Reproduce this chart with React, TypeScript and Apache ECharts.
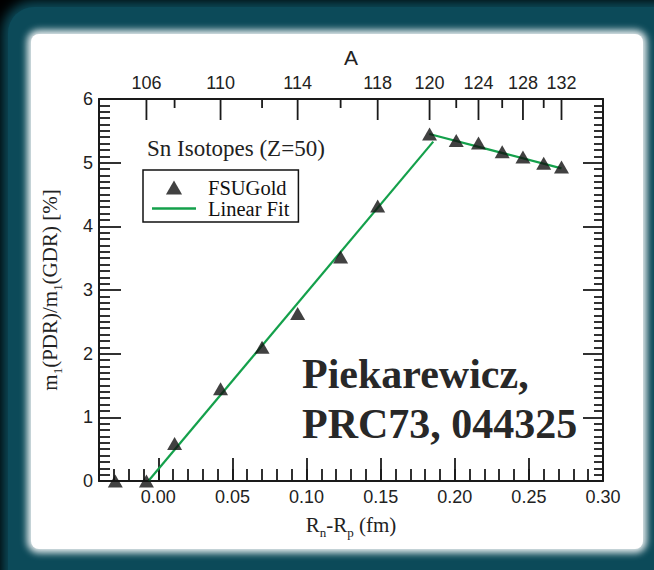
import React, { useEffect, useRef } from "react";
import * as echarts from "echarts";

// ---- data ----
const massNumbers = [104, 106, 108, 110, 112, 114, 116, 118, 120, 122, 124, 126, 128, 130, 132];
const rnMinusRp = [-0.029, -0.008, 0.011, 0.042, 0.070, 0.094, 0.123, 0.148, 0.183, 0.201, 0.216, 0.232, 0.246, 0.260, 0.272];
const pdrRatio = [0, 0, 0.59, 1.45, 2.10, 2.63, 3.52, 4.32, 5.45, 5.35, 5.31, 5.17, 5.09, 4.99, 4.93];
const topMajorA = [106, 110, 114, 118, 120, 124, 128, 132];
const topMinorA = [108, 112, 116, 122, 126, 130];
const fitLow = [[-0.0067, 0], [0.1855, 5.33]];
const fitHigh = [[0.1828, 5.45], [0.272, 4.91]];
const xMin = -0.04;
const xMax = 0.30;
const yMin = 0;
const yMax = 6;

const SERIF = "'Liberation Serif', 'Times New Roman', serif";
const SANS = "'Liberation Sans', Arial, sans-serif";
const INK = "#1a1a1a";
const GREEN = "#14a04b";

export default function App() {
  const ref = useRef<HTMLDivElement>(null);

  useEffect(() => {
    if (!ref.current) return;
    const chart = echarts.init(ref.current, undefined, { renderer: "svg" });

    const scatterData = massNumbers.map((_, i) => [rnMinusRp[i], pdrRatio[i]]);
    const topTicks = [
      ...topMajorA.map((a) => [rnMinusRp[massNumbers.indexOf(a)], a, 1]),
      ...topMinorA.map((a) => [rnMinusRp[massNumbers.indexOf(a)], a, 0]),
    ];

    const richName = {
      a: { fontFamily: SERIF, fontSize: 21, color: "#222", lineHeight: 28 },
      s: { fontFamily: SERIF, fontSize: 13, color: "#222", verticalAlign: "bottom" },
    };

    chart.setOption({
      animation: false,
      backgroundColor: "transparent",
      title: {
        text: "Sn Isotopes (Z=50)",
        left: 147,
        top: 137,
        padding: 0,
        textStyle: { fontFamily: SERIF, fontSize: 23, fontWeight: "normal", color: "#222" },
      },
      legend: {
        data: [
          { name: "FSUGold", icon: "path://M0,13 L7.5,0 L15,13 Z" },
          { name: "Linear Fit", icon: "path://M0,0 L44,0 L44,2.4 L0,2.4 Z" },
        ],
        orient: "vertical",
        left: 143,
        top: 170,
        padding: [7, 9, 3, 9],
        itemGap: 0,
        itemWidth: 44,
        itemHeight: 14,
        symbolKeepAspect: true,
        borderColor: "#111",
        borderWidth: 1.5,
        textStyle: { fontFamily: SERIF, fontSize: 20.5, color: "#111", lineHeight: 20.5, padding: [0, 0, 0, 7] },
      },
      grid: { left: 99, top: 99, width: 504, height: 382, containLabel: false },
      xAxis: [
        {
          type: "value",
          position: "bottom",
          min: xMin,
          max: xMax,
          splitNumber: 7,
          axisLine: { show: true, onZero: false, lineStyle: { color: INK, width: 2 } },
          axisTick: { show: true, inside: true, length: 23, lineStyle: { color: INK, width: 1.8 } },
          axisLabel: {
            showMinLabel: false,
            margin: 7,
            fontFamily: SANS,
            fontSize: 18,
            color: "#222",
            formatter: (v: number) => v.toFixed(2),
          },
          splitLine: { show: false },
          name: "{a|R}{s|n}{a|-R}{s|p}{a| (fm)}",
          nameLocation: "middle",
          nameGap: 30,
          nameTextStyle: { rich: richName },
        },
        {
          type: "value",
          position: "bottom",
          min: xMin,
          max: xMax,
          interval: 0.01,
          axisLine: { show: false },
          axisTick: { show: true, inside: true, length: 12, lineStyle: { color: INK, width: 1.8 } },
          axisLabel: { show: false },
          splitLine: { show: false },
        },
        {
          type: "value",
          position: "top",
          min: xMin,
          max: xMax,
          axisLine: { show: true, onZero: false, lineStyle: { color: INK, width: 2 } },
          axisTick: { show: false },
          axisLabel: { show: false },
          splitLine: { show: false },
          name: "A",
          nameLocation: "middle",
          nameGap: 31,
          nameTextStyle: { fontFamily: SANS, fontSize: 21, color: "#222" },
        },
      ],
      yAxis: [
        {
          type: "value",
          position: "left",
          min: yMin,
          max: yMax,
          interval: 1,
          axisLine: { show: true, onZero: false, lineStyle: { color: INK, width: 2 } },
          axisTick: { show: true, inside: true, length: 22, lineStyle: { color: INK, width: 1.8 } },
          minorTick: { show: true, splitNumber: 10, length: 11, lineStyle: { color: INK, width: 1.8 } },
          axisLabel: { margin: 6, fontFamily: SANS, fontSize: 18, color: "#222" },
          splitLine: { show: false },
          name: "{a|m}{s|1}{a|(PDR)/m}{s|1}{a|(GDR) [%]}",
          nameLocation: "middle",
          nameGap: 35,
          nameTextStyle: { rich: richName },
        },
        {
          type: "value",
          position: "right",
          min: yMin,
          max: yMax,
          interval: 1,
          axisLine: { show: true, onZero: false, lineStyle: { color: INK, width: 2 } },
          axisTick: { show: true, inside: true, length: 20, lineStyle: { color: INK, width: 1.8 } },
          minorTick: { show: true, splitNumber: 10, length: 9, lineStyle: { color: INK, width: 1.8 } },
          axisLabel: { show: false },
          splitLine: { show: false },
        },
      ],
      graphic: [
        {
          type: "text",
          x: 302,
          y: 399,
          style: {
            text: "Piekarewicz,\nPRC73, 044325",
            font: `bold 42px ${SERIF}`,
            lineHeight: 50,
            fill: "#282828",
            align: "left",
            verticalAlign: "middle",
          },
          z: 10,
        },
      ],
      series: [
        {
          name: "Linear Fit",
          type: "line",
          xAxisIndex: 0,
          yAxisIndex: 0,
          data: fitLow,
          symbol: "none",
          lineStyle: { color: GREEN, width: 2.2 },
          itemStyle: { color: GREEN },
          z: 2,
        },
        {
          name: "Linear Fit",
          type: "line",
          xAxisIndex: 0,
          yAxisIndex: 0,
          data: fitHigh,
          symbol: "none",
          lineStyle: { color: GREEN, width: 2.2 },
          itemStyle: { color: GREEN },
          z: 2,
        },
        {
          name: "FSUGold",
          type: "scatter",
          xAxisIndex: 0,
          yAxisIndex: 0,
          data: scatterData,
          symbol: "triangle",
          symbolSize: [15, 13],
          itemStyle: { color: "#111" },
          z: 3,
        },
        {
          name: "A ticks",
          type: "custom",
          xAxisIndex: 0,
          yAxisIndex: 0,
          clip: false,
          silent: true,
          data: topTicks,
          renderItem: (params: any, api: any) => {
            const x = api.value(0);
            const a = api.value(1);
            const major = api.value(2) === 1;
            const p = api.coord([x, yMax]);
            const len = major ? 21 : 9;
            const children: any[] = [
              {
                type: "line",
                shape: { x1: p[0], y1: p[1], x2: p[0], y2: p[1] + len },
                style: { stroke: INK, lineWidth: 1.8 },
              },
            ];
            if (major) {
              children.push({
                type: "text",
                x: p[0],
                y: p[1] - 7,
                style: {
                  text: String(a),
                  fill: "#222",
                  font: `18px ${SANS}`,
                  align: "center",
                  verticalAlign: "bottom",
                },
              });
            }
            return { type: "group", children };
          },
        },
      ],
    });

    return () => chart.dispose();
  }, []);

  return (
    <div style={{ position: "fixed", left: 0, top: 0, width: 654, height: 570, background: "#000", overflow: "hidden" }}>
      <div
        style={{
          position: "absolute",
          left: 8,
          top: 7,
          width: 690,
          height: 610,
          background: "#0c4a59",
          borderRadius: 26,
          boxShadow: "0 0 12px 6px #0c4a59",
        }}
      />
      <div
        style={{
          position: "absolute",
          left: 31,
          top: 34,
          width: 612,
          height: 515,
          background: "#fff",
          borderRadius: 8,
          boxShadow: "0 0 7px 4px rgba(255,255,255,0.9)",
        }}
      />
      <div ref={ref} style={{ position: "absolute", left: 0, top: 0, width: 654, height: 570 }} />
    </div>
  );
}
